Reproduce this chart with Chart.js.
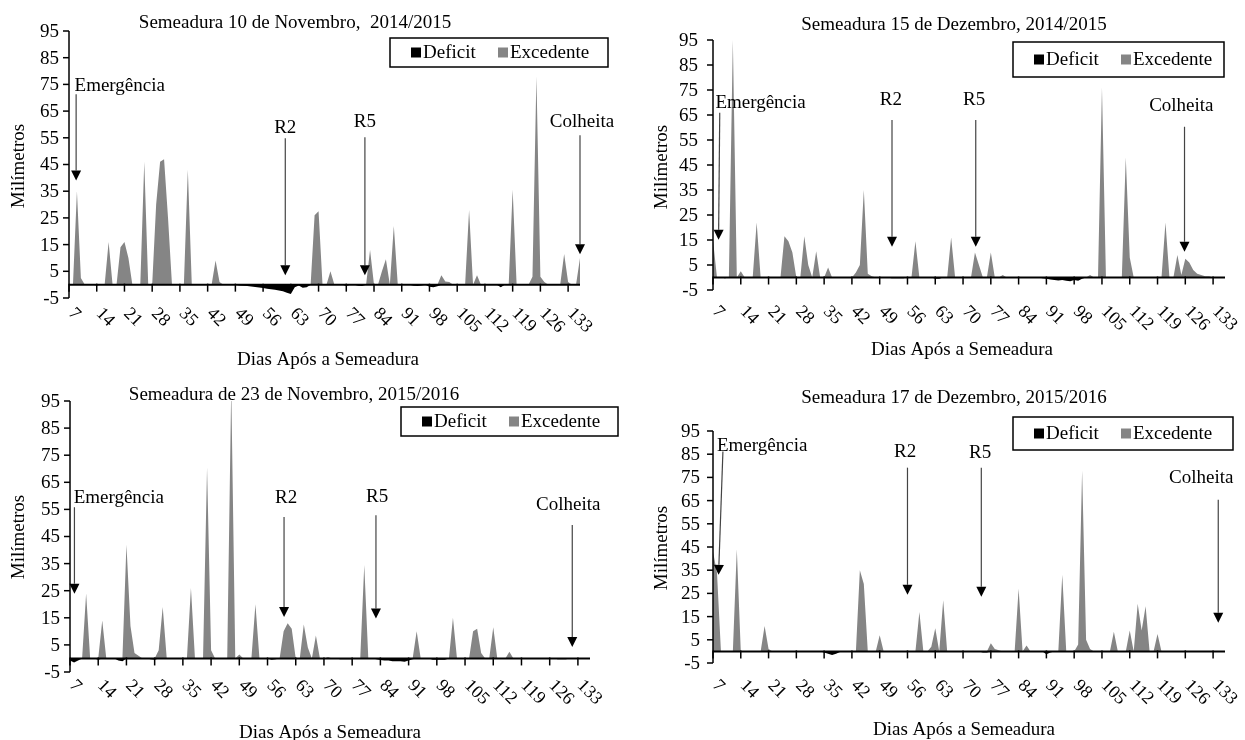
<!DOCTYPE html>
<html>
<head>
<meta charset="utf-8">
<script src="https://cdn.jsdelivr.net/npm/chart.js@4.4.1/dist/chart.umd.min.js"></script>
<style>
  html, body { margin: 0; padding: 0; background: #fff; }
  #quadro { position: relative; width: 1245px; height: 740px; overflow: hidden; background: #fff; }
  canvas { position: absolute; }
</style>
</head>
<body>
<div id="quadro">
  <canvas id="g1" width="620" height="370" style="left:0;top:0"></canvas>
  <canvas id="g2" width="625" height="370" style="left:620px;top:0"></canvas>
  <canvas id="g3" width="620" height="370" style="left:0;top:370px"></canvas>
  <canvas id="g4" width="625" height="370" style="left:620px;top:370px"></canvas>
</div>
<script>
// Dias apos a semeadura (categorias do eixo x)
const dias = [
  7, 8, 9, 10, 11, 12, 13, 14, 15, 16,
  17, 18, 19, 20, 21, 22, 23, 24, 25, 26,
  27, 28, 29, 30, 31, 32, 33, 34, 35, 36,
  37, 38, 39, 40, 41, 42, 43, 44, 45, 46,
  47, 48, 49, 50, 51, 52, 53, 54, 55, 56,
  57, 58, 59, 60, 61, 62, 63, 64, 65, 66,
  67, 68, 69, 70, 71, 72, 73, 74, 75, 76,
  77, 78, 79, 80, 81, 82, 83, 84, 85, 86,
  87, 88, 89, 90, 91, 92, 93, 94, 95, 96,
  97, 98, 99, 100, 101, 102, 103, 104, 105, 106,
  107, 108, 109, 110, 111, 112, 113, 114, 115, 116,
  117, 118, 119, 120, 121, 122, 123, 124, 125, 126,
  127, 128, 129, 130, 131, 132, 133, 134, 135, 136
];
const rotulosX = [7, 14, 21, 28, 35, 42, 49, 56, 63, 70, 77, 84, 91, 98, 105, 112, 119, 126, 133];
const rotulosY = [-5, 5, 15, 25, 35, 45, 55, 65, 75, 85, 95];

// Semeadura 10 de Novembro, 2014/2015 (uma linha = 10 dias)
const excedente1 = [
  0, 0, 35, 2.5, 0, 0, 0, 0, 0, 0,
  16, 0, 0, 14, 16, 10, 0, 0, 0, 46,
  0, 0, 30, 46, 47, 25, 0, 0, 0, 0,
  43, 0, 0, 0, 0, 0, 0, 9, 1, 0,
  0, 0, 0, 0, 0, 0, 0, 0, 0, 0,
  0, 0, 0, 0, 0, 0, 0, 0, 0, 0,
  0, 0, 26, 27.5, 0, 0, 5, 0, 0, 0,
  0, 0, 0, 0, 0, 0, 13, 0, 0, 5,
  9.5, 0, 22, 0, 0, 0, 0, 0, 0, 0,
  0, 0, 0, 0, 3.5, 1.2, 1, 0, 0, 0,
  0, 28, 0, 3.5, 0, 0, 0, 0, 0, 0,
  0, 0, 35.5, 0, 0, 0, 0, 3, 78, 3,
  1, 0, 0, 0, 0, 11.5, 1, 0, 0, 10
];
const deficit1 = [
  0, 0, 0, 0, 0, 0, 0, -0.3, 0, 0,
  0, 0, 0, 0, 0, 0, 0, 0, 0, 0,
  0, 0, 0, 0, 0, 0, 0, 0, 0, 0,
  0, 0, 0, 0, 0, 0, 0, 0, 0, 0,
  0, 0, 0, -0.3, -0.4, -0.5, -0.7, -0.9, -1.1, -1.3,
  -1.5, -1.7, -1.9, -2.2, -2.5, -3, -3.5, -1, -0.3, -1.2,
  -1, 0, 0, 0, 0, 0, 0, 0, 0, 0,
  -0.5, 0, 0, -0.4, -0.5, 0, 0, 0, 0, 0,
  0, 0, 0, 0, 0, 0, 0, -0.4, -0.5, -0.3,
  0, -0.8, -1, -0.6, 0, 0, 0, 0, 0, 0,
  0, 0, 0, 0, 0, 0, 0, 0, 0, -1,
  0, 0, 0, 0, 0, 0, 0, 0, 0, 0,
  0, 0, 0, 0, 0, 0, 0, 0, 0, 0
];

// Semeadura 15 de Dezembro, 2014/2015
const excedente2 = [
  15, 0, 0, 0, 0, 95, 0, 2.5, 0, 0,
  0, 22, 0, 0, 0, 0, 0, 0, 16.5, 14.5,
  10, 0, 0, 16.5, 5, 0, 10.5, 0, 0, 4,
  0, 0, 0, 0, 0, 0, 2, 5, 35, 1.5,
  0.5, 0, 0, 0, 0, 0, 0, 0, 0, 0,
  0, 14.5, 0, 0, 0, 0, 0, 0, 0, 0,
  16, 0, 0, 0, 0, 0, 10, 5, 0, 0,
  10, 0, 0, 1, 0, 0, 0, 0, 0, 0,
  0, 0, 0, 0, 0, 0, 0, 0, 0, 0,
  0, 0, 0, 0, 0, 1, 0, 0, 76, 0,
  0, 0, 0, 0, 48, 8, 0, 0, 0, 0,
  0, 0, 0, 0, 22, 0, 0, 9, 1, 7.5,
  6, 3, 1.5, 1, 0.5, 0.5, 0, 0, 0, 0
];
const deficit2 = [
  0, 0, 0, -0.3, 0, 0, 0, 0, 0, 0,
  0, 0, 0, 0, 0, 0, 0, 0, 0, 0,
  0, 0, 0, 0, 0, 0, 0, 0, 0, 0,
  0, 0, 0, 0, 0, 0, 0, 0, 0, 0,
  0, 0, 0, 0, 0, -0.3, -0.3, -0.3, -0.3, 0,
  0, 0, 0, 0, 0, 0, -0.5, -0.5, 0, 0,
  0, 0, 0, 0, 0, 0, 0, 0, 0, 0,
  0, 0, 0, 0, 0, 0, 0, 0, 0, 0,
  0, 0, 0, -0.3, -0.5, -0.8, -1, -1.2, -1, -1.3,
  -1.5, -1, -1.3, -0.5, 0, 0, 0, 0, 0, 0,
  0, 0, 0, 0, 0, 0, 0, 0, 0, 0,
  0, 0, 0, 0, 0, 0, 0, 0, 0, 0,
  0, 0, 0, 0, 0, 0, 0, 0, 0, 0
];

// Semeadura de 23 de Novembro, 2015/2016
const excedente3 = [
  0, 0, 0, 0, 24, 0, 0, 0, 14, 0,
  0, 0, 0, 0, 42, 12, 2, 1, 0, 0,
  0, 0, 3, 19, 0, 0, 0, 0, 0, 0,
  26, 0, 0, 0, 70.5, 3, 0, 0, 0, 0,
  100, 0, 1.5, 0, 0, 0, 20, 0, 0, 0,
  0, 0, 0, 10, 13, 11, 0, 0, 12.5, 4,
  0, 8.5, 0, 0, 0.5, 0, 0, 0, 0, 0,
  0, 0, 0, 34.5, 0, 0, 0, 0, 0, 0,
  0, 0, 0, 0, 0, 0, 10, 0, 0, 0,
  0, 0, 0, 0, 0, 15, 0, 0, 0, 0,
  10, 11, 2, 0, 0, 11.5, 0, 0, 0, 2.5,
  0, 0, 0, 0, 0, 0, 0, 0, 0, 0,
  0, 0, 0, 0, 0, 0, 0, 0, 0, 0
];
const deficit3 = [
  -0.8, -1.5, -0.8, 0, 0, 0, 0, -0.5, 0, 0,
  0, 0, -0.8, -1, 0, 0, 0, 0, 0, 0,
  -0.3, -0.5, 0, 0, 0, 0, 0, 0, 0, 0,
  0, 0, 0, 0, 0, 0, 0, 0, 0, 0,
  0, 0, 0, 0, 0, 0, 0, 0, 0, 0,
  -0.5, -0.3, 0, 0, 0, 0, 0, 0, 0, 0,
  0, 0, 0, 0, 0, 0, 0, -0.3, -0.3, -0.3,
  -0.3, 0, 0, 0, 0, 0, -0.3, -0.6, -0.8, -0.8,
  -1, -1, -1, -1.2, -0.8, -0.3, 0, 0, 0, 0,
  -0.5, -0.5, -0.5, -0.5, 0, 0, 0, 0, 0, 0,
  0, 0, 0, 0, 0, 0, 0, 0, 0, 0,
  0, 0, 0, 0, 0, 0, 0, 0, 0, 0,
  0, -0.3, -0.3, -0.3, 0, 0, 0, 0, 0, 0
];

// Semeadura 17 de Dezembro, 2015/2016
const excedente4 = [
  43, 34, 0, 0, 0, 0, 44, 0, 0, 0,
  0, 0, 0, 11, 1, 0, 0, 0, 0, 0,
  0, 0, 0, 0, 0, 0, 0, 0, 0, 0,
  0, 0, 0, 0, 0, 0, 0, 35, 29, 0,
  0, 0, 7, 0, 0, 0, 0, 0, 0, 0,
  0, 0, 17, 0, 0, 2, 10, 0, 22, 0,
  0, 0, 0, 0, 0, 0, 0, 0, 0, 0,
  3.5, 1, 0.5, 0, 0, 0, 0, 27, 0, 2.5,
  0, 0, 0, 0, 0, 0, 0, 0, 33, 0,
  0, 0, 3, 78, 5, 1, 0, 0, 0, 0,
  0, 8.5, 0, 0, 0, 9, 0, 20.5, 9, 19.5,
  0, 0, 7.5, 0, 0, 0, 0, 0, 0, 0,
  0, 0, 0, 0, 0, 0, 0, 0, 0, 0
];
const deficit4 = [
  0, 0, 0, 0, 0, 0, 0, 0, 0, 0,
  0, 0, 0, 0, 0, 0, 0, 0, 0, 0,
  0, 0, 0, 0, 0, 0, 0, 0, -0.5, -1,
  -1.5, -1, -0.3, 0, 0, 0, 0, 0, 0, 0,
  0, 0, 0, 0, 0, 0, 0, 0, 0, 0,
  0, 0, 0, 0, 0, 0, 0, 0, 0, 0,
  0, 0, 0, 0, 0, 0, 0, 0, -0.5, -0.5,
  0, 0, 0, 0, 0, 0, 0, 0, 0, 0,
  0, 0, 0, 0, -1.2, -0.5, 0, 0, 0, 0,
  0, 0, 0, 0, 0, 0, 0, 0, 0, 0,
  0, 0, 0, 0, 0, 0, 0, 0, 0, 0,
  0, 0, 0, 0, -0.3, -0.3, 0, 0, 0, 0,
  0, 0, 0, 0, 0, 0, 0, 0, 0, 0
];

// estadios marcados com setas: texto em (dia, mm), seta do topo ate a ponta
const estadios1 = [
  { texto: 'Emergência', dia: 8.4, mm: 74.3, alinha: 'left', topo: [8.8, 71.3], ponta: [8.8, 39] },
  { texto: 'R2', dia: 61.6, mm: 58.6, alinha: 'center', topo: [61.6, 54.8], ponta: [61.6, 3.5] },
  { texto: 'R5', dia: 81.7, mm: 60.8, alinha: 'center', topo: [81.7, 55.2], ponta: [81.7, 3.5] },
  { texto: 'Colheita', dia: 136.5, mm: 60.8, alinha: 'center', topo: [136, 56], ponta: [136, 11.4] }
];
const estadios2 = [
  { texto: 'Emergência', dia: 7.6, mm: 69.9, alinha: 'left', topo: [8.7, 65.9], ponta: [8.4, 15.1] },
  { texto: 'R2', dia: 51.8, mm: 71, alinha: 'center', topo: [52.1, 63], ponta: [52.1, 12.3] },
  { texto: 'R5', dia: 72.8, mm: 71, alinha: 'center', topo: [73.2, 63], ponta: [73.2, 12.3] },
  { texto: 'Colheita', dia: 125, mm: 68.7, alinha: 'center', topo: [125.8, 60.3], ponta: [125.8, 10.3] }
];
const estadios3 = [
  { texto: 'Emergência', dia: 7.9, mm: 59.2, alinha: 'left', topo: [8.1, 55.8], ponta: [8.1, 23.9] },
  { texto: 'R2', dia: 60.6, mm: 59.2, alinha: 'center', topo: [60.1, 52.2], ponta: [60.1, 15.3] },
  { texto: 'R5', dia: 83.2, mm: 59.6, alinha: 'center', topo: [82.9, 52.8], ponta: [82.9, 14.7] },
  { texto: 'Colheita', dia: 130.6, mm: 56.5, alinha: 'center', topo: [131.6, 49.2], ponta: [131.6, 4.2] }
];
const estadios4 = [
  { texto: 'Emergência', dia: 8, mm: 88.4, alinha: 'left', topo: [9.5, 86.2], ponta: [8.4, 33] },
  { texto: 'R2', dia: 55.4, mm: 86.1, alinha: 'center', topo: [56, 79.2], ponta: [56, 24.4] },
  { texto: 'R5', dia: 74.3, mm: 85.7, alinha: 'center', topo: [74.6, 79.2], ponta: [74.6, 23.6] },
  { texto: 'Colheita', dia: 130, mm: 74.9, alinha: 'center', topo: [134.3, 65.4], ponta: [134.3, 12.4] }
];

const titulos = [
  'Semeadura 10 de Novembro,  2014/2015',
  'Semeadura 15 de Dezembro, 2014/2015',
  'Semeadura de 23 de Novembro, 2015/2016',
  'Semeadura 17 de Dezembro, 2015/2016'
];

const CINZA = '#858585';
const FONTE = '"Liberation Serif", "Times New Roman", serif';

function desenharPainel(id, cfg) {
  const plugin = {
    id: 'eixos_' + id,
    afterDraw(chart) {
      const c = chart.ctx, xs = chart.scales.x, ys = chart.scales.y, a = chart.chartArea;
      const px = d => xs.getPixelForValue(d - dias[0]);
      const py = v => ys.getPixelForValue(v);
      c.save();
      c.fillStyle = '#000';
      c.strokeStyle = '#000';

      // eixo y
      c.lineWidth = 1.5;
      c.beginPath();
      c.moveTo(a.left, py(95));
      c.lineTo(a.left, py(-5));
      c.stroke();
      c.font = '19px ' + FONTE;
      c.textAlign = 'right';
      c.textBaseline = 'middle';
      rotulosY.forEach(v => {
        const y = py(v);
        c.beginPath();
        c.moveTo(a.left - 6, y);
        c.lineTo(a.left, y);
        c.stroke();
        c.fillText(String(v), a.left - cfg.folgaY, y + 1);
      });

      // eixo x cruzando em zero
      const y0 = py(0);
      c.lineWidth = 2;
      c.beginPath();
      c.moveTo(a.left, y0);
      c.lineTo(a.right, y0);
      c.stroke();
      c.lineWidth = 1.5;
      c.font = '18px ' + FONTE;
      c.textAlign = 'left';
      rotulosX.forEach(d => {
        const x = px(d);
        c.beginPath();
        c.moveTo(x, y0 - 1);
        c.lineTo(x, y0 + 7);
        c.stroke();
        c.save();
        c.translate(x + 2, cfg.topoRotulos);
        c.rotate(Math.PI / 4);
        c.fillText(String(d), 0, 0);
        c.restore();
      });

      // titulos
      c.font = '19px ' + FONTE;
      c.textAlign = 'center';
      c.fillText(cfg.titulo, cfg.posTitulo[0], cfg.posTitulo[1]);
      c.fillText('Dias Após a Semeadura', cfg.posTituloX[0], cfg.posTituloX[1]);
      c.save();
      c.translate(cfg.posTituloY[0], cfg.posTituloY[1]);
      c.rotate(-Math.PI / 2);
      c.fillText('Milímetros', 0, 0);
      c.restore();

      // legenda
      const L = cfg.legenda;
      c.lineWidth = 1.5;
      c.strokeRect(L.x, L.y, L.w, L.h);
      const ly = L.y + L.h / 2;
      c.fillStyle = '#000';
      c.fillRect(L.x + 21, ly - 5, 10, 10);
      c.textAlign = 'left';
      c.fillText('Deficit', L.x + 33, ly + 1);
      c.fillStyle = CINZA;
      c.fillRect(L.x + 108, ly - 5, 10, 10);
      c.fillStyle = '#000';
      c.fillText('Excedente', L.x + 120, ly + 1);

      // estadios com setas
      cfg.estadios.forEach(e => {
        c.fillStyle = '#000';
        c.textAlign = e.alinha;
        c.fillText(e.texto, px(e.dia), py(e.mm));
        const x1 = px(e.topo[0]), y1 = py(e.topo[1]);
        const x2 = px(e.ponta[0]), y2 = py(e.ponta[1]);
        const ang = Math.atan2(y2 - y1, x2 - x1);
        const hx = x2 - Math.cos(ang) * 10, hy = y2 - Math.sin(ang) * 10;
        c.strokeStyle = '#444';
        c.lineWidth = 1.2;
        c.beginPath();
        c.moveTo(x1, y1);
        c.lineTo(hx, hy);
        c.stroke();
        c.beginPath();
        c.moveTo(x2, y2);
        c.lineTo(hx + Math.sin(ang) * 5, hy - Math.cos(ang) * 5);
        c.lineTo(hx - Math.sin(ang) * 5, hy + Math.cos(ang) * 5);
        c.closePath();
        c.fill();
      });
      c.restore();
    }
  };

  return new Chart(document.getElementById(id).getContext('2d'), {
    type: 'line',
    data: {
      labels: dias,
      datasets: [
        { label: 'Deficit', data: cfg.deficit, fill: 'origin', backgroundColor: '#000',
          borderColor: 'rgba(0,0,0,0)', borderWidth: 0, pointRadius: 0, tension: 0, clip: false },
        { label: 'Excedente', data: cfg.excedente, fill: 'origin', backgroundColor: CINZA,
          borderColor: 'rgba(0,0,0,0)', borderWidth: 0, pointRadius: 0, tension: 0, clip: false }
      ]
    },
    options: {
      responsive: false,
      animation: false,
      devicePixelRatio: 1,
      events: [],
      layout: { padding: cfg.margens },
      scales: {
        x: { type: 'category', display: false, offset: false },
        y: { display: false, min: -5, max: 95 }
      },
      plugins: { legend: { display: false }, tooltip: { enabled: false }, title: { display: false } }
    },
    plugins: [plugin]
  });
}

desenharPainel('g1', {
  excedente: excedente1, deficit: deficit1, estadios: estadios1, titulo: titulos[0],
  margens: { left: 69, right: 40, top: 31, bottom: 72 },
  folgaY: 10, topoRotulos: 311,
  posTitulo: [295, 23], posTituloX: [328, 360], posTituloY: [19, 166],
  legenda: { x: 390, y: 38, w: 218, h: 29 }
});
desenharPainel('g2', {
  excedente: excedente2, deficit: deficit2, estadios: estadios2, titulo: titulos[1],
  margens: { left: 93, right: 20, top: 40, bottom: 80 },
  folgaY: 15, topoRotulos: 309,
  posTitulo: [334, 25], posTituloX: [342, 350], posTituloY: [42, 167],
  legenda: { x: 393, y: 42, w: 211, h: 35 }
});
desenharPainel('g3', {
  excedente: excedente3, deficit: deficit3, estadios: estadios3, titulo: titulos[2],
  margens: { left: 70, right: 30, top: 31, bottom: 68 },
  folgaY: 10, topoRotulos: 313,
  posTitulo: [294, 25], posTituloX: [330, 363], posTituloY: [19, 167],
  legenda: { x: 401, y: 37, w: 217, h: 29 }
});
desenharPainel('g4', {
  excedente: excedente4, deficit: deficit4, estadios: estadios4, titulo: titulos[3],
  margens: { left: 93, right: 20, top: 61, bottom: 77 },
  folgaY: 13, topoRotulos: 313,
  posTitulo: [334, 28], posTituloX: [344, 360], posTituloY: [42, 178],
  legenda: { x: 393, y: 47, w: 220, h: 33 }
});
</script>
</body>
</html>
